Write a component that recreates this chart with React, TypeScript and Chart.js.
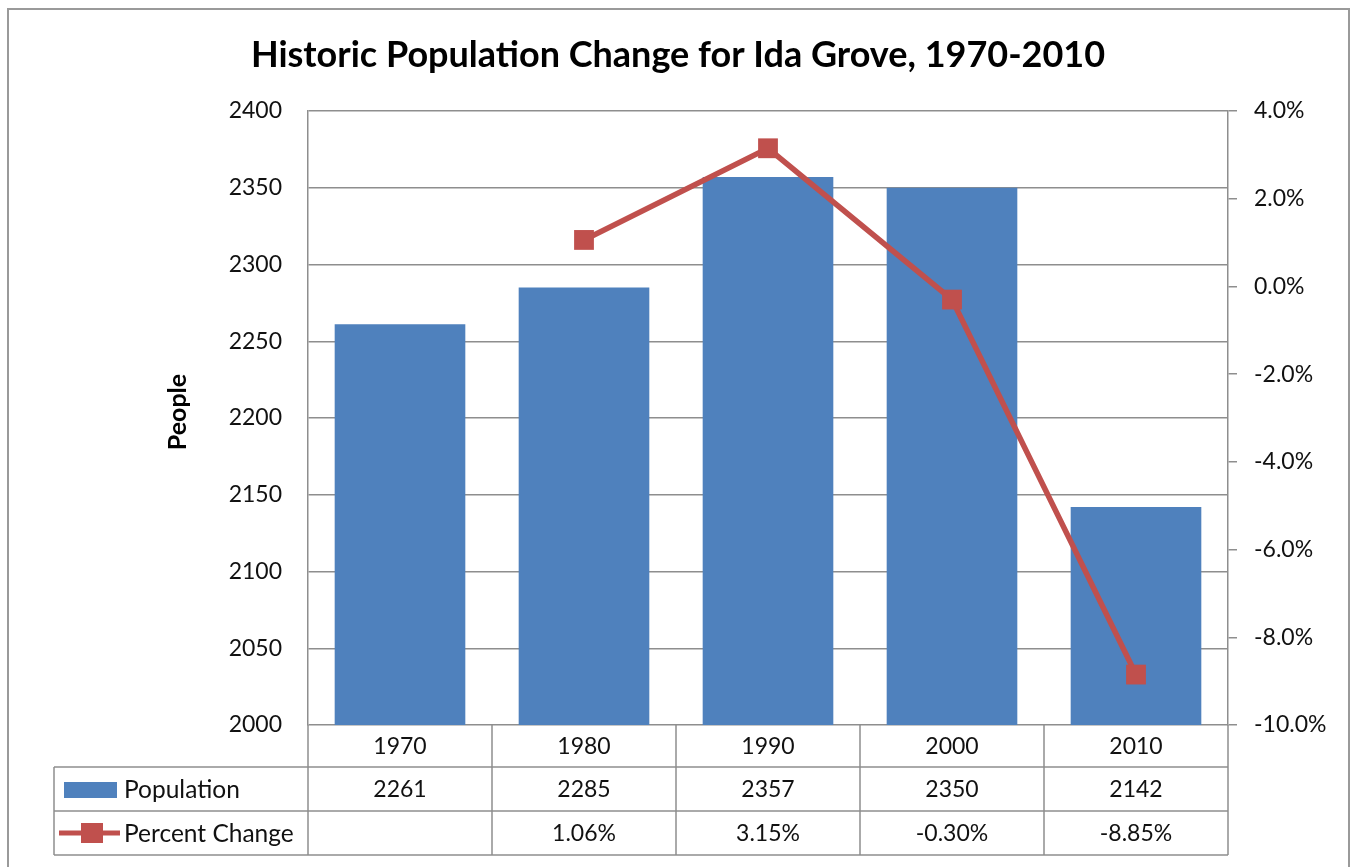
import React, { useEffect, useRef } from "react";
import { Chart, registerables } from "chart.js";

Chart.register(...registerables);

const years = ["1970", "1980", "1990", "2000", "2010"];
const population = [2261, 2285, 2357, 2350, 2142];
const percentChange: (number | null)[] = [null, 1.06, 3.15, -0.3, -8.85];
const percentLabels = ["", "1.06%", "3.15%", "-0.30%", "-8.85%"];
const leftMin = 2000;
const leftMax = 2400;
const leftStep = 50;
const rightMin = -10;
const rightMax = 4;
const rightStep = 2;

const TITLE = "Historic Population Change for Ida Grove, 1970-2010";
const BAR_COLOR = "#4F81BD";
const LINE_COLOR = "#C0504D";
const GRID = "#8e8e8e";
const FONT = "Lato, 'Open Sans', sans-serif";

const tablePlugin = {
  id: "tablePlugin",
  afterDraw(chart: any) {
    const ctx = chart.ctx as CanvasRenderingContext2D;
    const area = chart.chartArea;
    const x = chart.scales.x;
    const n = years.length;
    const colW = (area.right - area.left) / n;
    const r0 = area.bottom;
    const r1 = r0 + 42;
    const r2 = r1 + 44;
    const r3 = r2 + 44;
    const legendLeft = 54;

    ctx.save();
    // outer border
    ctx.strokeStyle = "#9a9a9a";
    ctx.lineWidth = 2;
    ctx.strokeRect(8, 9, 1341, 900);

    // title
    ctx.fillStyle = "#000";
    ctx.font = `bold 36px ${FONT}`;
    ctx.textAlign = "center";
    ctx.textBaseline = "middle";
    ctx.fillText(TITLE, 678, 55);

    // y axis title
    ctx.save();
    ctx.translate(178, 412);
    ctx.rotate(-Math.PI / 2);
    ctx.font = `bold 25px ${FONT}`;
    ctx.fillText("People", 0, 0);
    ctx.restore();

    // table lines
    ctx.strokeStyle = GRID;
    ctx.lineWidth = 1.5;
    ctx.beginPath();
    [r1, r2, r3].forEach((y) => {
      ctx.moveTo(legendLeft, y);
      ctx.lineTo(area.right, y);
    });
    ctx.moveTo(legendLeft, r1);
    ctx.lineTo(legendLeft, r3);
    for (let i = 0; i <= n; i++) {
      const px = area.left + i * colW;
      ctx.moveTo(px, r0);
      ctx.lineTo(px, r3);
    }
    ctx.stroke();

    // cell text
    ctx.fillStyle = "#111";
    ctx.font = `23px ${FONT}`;
    ctx.textAlign = "center";
    years.forEach((yr, i) => {
      const cx = x.getPixelForValue(i);
      ctx.fillText(yr, cx, (r0 + r1) / 2 + 1);
      ctx.fillText(String(population[i]), cx, (r1 + r2) / 2 + 1);
      ctx.fillText(percentLabels[i], cx, (r2 + r3) / 2 + 1);
    });

    // legend keys
    ctx.fillStyle = BAR_COLOR;
    ctx.fillRect(64, 782, 53, 16);
    ctx.strokeStyle = LINE_COLOR;
    ctx.lineWidth = 5;
    ctx.beginPath();
    ctx.moveTo(59, 833);
    ctx.lineTo(120, 833);
    ctx.stroke();
    ctx.fillStyle = LINE_COLOR;
    ctx.fillRect(81, 823, 22, 20);

    ctx.fillStyle = "#111";
    ctx.textAlign = "left";
    ctx.font = `24.5px ${FONT}`;
    ctx.fillText("Population", 124, (r1 + r2) / 2 + 1);
    ctx.fillText("Percent Change", 124, (r2 + r3) / 2 + 1);
    ctx.restore();
  },
};

export default function App() {
  const ref = useRef<HTMLCanvasElement>(null);
  useEffect(() => {
    document.body.style.margin = "0";
    const chart = new Chart(ref.current!, {
      type: "bar",
      data: {
        labels: years,
        datasets: [
          {
            type: "line",
            label: "Percent Change",
            data: percentChange,
            yAxisID: "y1",
            borderColor: LINE_COLOR,
            backgroundColor: LINE_COLOR,
            borderWidth: 5.5,
            pointStyle: "rect",
            pointRadius: 14,
            pointBorderWidth: 0,
            order: 0,
            spanGaps: false,
          } as any,
          {
            type: "bar",
            label: "Population",
            data: population,
            yAxisID: "y",
            backgroundColor: BAR_COLOR,
            barPercentage: 0.71,
            categoryPercentage: 1,
            order: 1,
          },
        ],
      },
      options: {
        animation: false,
        responsive: false,
        layout: { padding: { left: 0, right: 0, top: 111, bottom: 142 } },
        plugins: { legend: { display: false }, tooltip: { enabled: false }, title: { display: false } },
        scales: {
          x: { display: false },
          y: {
            position: "left",
            min: leftMin,
            max: leftMax,
            ticks: {
              stepSize: leftStep,
              padding: 26,
              color: "#111",
              font: { family: FONT, size: 23 },
              callback: (v: any) => String(v),
            },
            grid: { color: GRID, lineWidth: 1.5, drawTicks: false },
            border: { display: true, color: GRID, width: 1.5 },
            afterFit: (s: any) => {
              s.width = 308;
            },
          },
          y1: {
            position: "right",
            min: rightMin,
            max: rightMax,
            ticks: {
              stepSize: rightStep,
              padding: 17,
              color: "#111",
              font: { family: FONT, size: 23 },
              callback: (v: any) => Number(v).toFixed(1) + "%",
            },
            grid: { drawOnChartArea: false, color: GRID, lineWidth: 1.5, tickLength: 9 },
            border: { display: true, color: GRID, width: 1.5 },
            afterFit: (s: any) => {
              s.width = 123;
            },
          },
        },
      },
      plugins: [tablePlugin],
    });
    return () => chart.destroy();
  }, []);
  return <canvas ref={ref} width={1351} height={867} style={{ display: "block" }} />;
}
